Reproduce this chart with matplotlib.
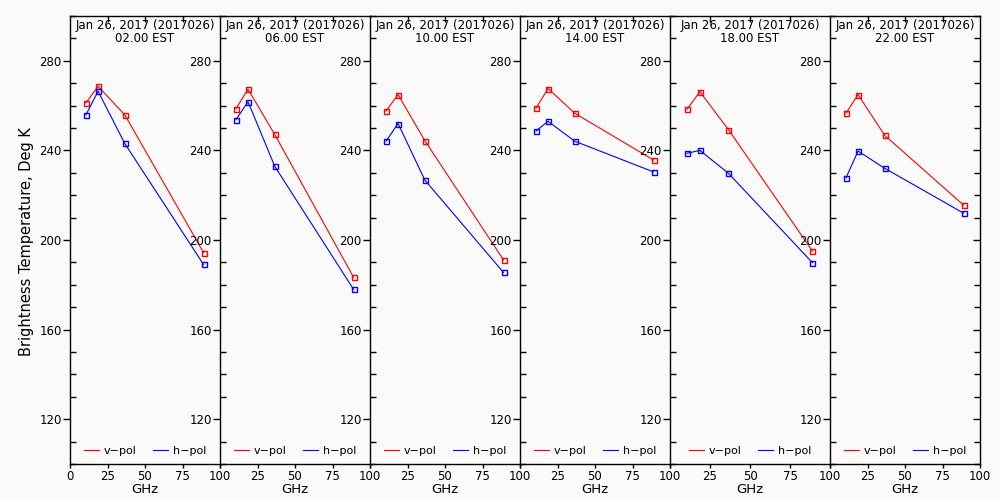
import matplotlib
matplotlib.use("Agg")
import matplotlib.pyplot as plt
from matplotlib.ticker import MultipleLocator, FixedLocator

# ---- data ----
freqs = [10.65, 18.7, 36.5, 89.0]
date_label = "Jan 26, 2017 (2017026)"
times = ["02.00 EST", "06.00 EST", "10.00 EST", "14.00 EST", "18.00 EST", "22.00 EST"]
vpol = [
    [261.2, 268.6, 255.9, 194.4],
    [258.6, 267.3, 247.1, 183.4],
    [257.5, 264.9, 244.4, 191.1],
    [258.8, 267.6, 256.6, 235.7],
    [258.4, 266.2, 249.3, 195.1],
    [256.6, 264.9, 246.7, 215.6],
]
hpol = [
    [255.9, 266.4, 243.1, 189.1],
    [253.7, 261.7, 232.9, 178.0],
    [244.1, 252.0, 226.8, 185.5],
    [248.6, 253.0, 244.1, 230.4],
    [238.7, 240.0, 229.8, 189.9],
    [227.7, 239.7, 232.0, 212.0],
]
x_ticks = [0, 25, 50, 75, 100]
y_ticks = [120, 160, 200, 240, 280]
legend_labels = ["v\u2212pol", "h\u2212pol"]

# ---- layout ----
W, H = 1000, 500
edges_px = [70, 220, 370, 520, 670, 830, 980]
top_px, bot_px = 16, 464
bg = "#fafafa"
fs = 8.5

fig = plt.figure(figsize=(W / 100, H / 100), dpi=100, facecolor=bg)

for i in range(6):
    l = edges_px[i] / W
    w = (edges_px[i + 1] - edges_px[i]) / W
    b = (H - bot_px) / H
    h = (bot_px - top_px) / H
    ax = fig.add_axes([l, b, w, h], facecolor=bg)
    ax.plot(freqs, vpol[i], color="#ff0000", lw=0.8, marker="s", ms=3.6,
            mfc="none", mec="#ff0000", mew=1.0, label=legend_labels[0])
    ax.plot(freqs, hpol[i], color="#0000ff", lw=0.8, marker="s", ms=3.6,
            mfc="none", mec="#0000ff", mew=1.0, label=legend_labels[1])
    ax.set_xlim(0, 100)
    ax.set_ylim(100, 300)

    for s in ["left", "top", "bottom", "right"]:
        ax.spines[s].set_linewidth(1.0)
        ax.spines[s].set_color("black")
    if i < 5:
        ax.spines["right"].set_visible(False)

    ax.xaxis.set_major_locator(FixedLocator(x_ticks))
    if i == 0:
        ax.set_xticklabels([str(t) for t in x_ticks])
    else:
        ax.set_xticklabels([""] + [str(t) for t in x_ticks[1:]])
    ax.tick_params(axis="x", which="major", direction="out", length=3,
                   width=1, pad=1, labelsize=fs)

    ax.yaxis.set_major_locator(FixedLocator(y_ticks))
    ax.yaxis.set_minor_locator(MultipleLocator(10))
    ax.tick_params(axis="y", which="major", direction="out", length=5,
                   width=1, pad=1, labelsize=fs)
    ax.tick_params(axis="y", which="minor", direction="in", length=4, width=1)
    ax.tick_params(right=False, top=False)

    sec = ax.secondary_xaxis("top")
    sec.xaxis.set_major_locator(FixedLocator(x_ticks[1:-1]))
    sec.tick_params(direction="in", length=4, width=1, labeltop=False)
    sec.spines["top"].set_visible(False)

    if i == 5:
        secy = ax.secondary_yaxis("right")
        secy.yaxis.set_major_locator(FixedLocator(y_ticks))
        secy.yaxis.set_minor_locator(MultipleLocator(10))
        secy.tick_params(which="major", direction="in", length=5, width=1,
                         labelright=False)
        secy.tick_params(which="minor", direction="in", length=4, width=1)
        secy.spines["right"].set_visible(False)

    ax.set_xlabel("GHz", fontsize=fs + 1, labelpad=0)
    ax.text(0.5, 1 - 3 / (bot_px - top_px), date_label + "\n" + times[i],
            transform=ax.transAxes, ha="center", va="top", fontsize=fs,
            linespacing=0.95)

    leg = ax.legend(loc="lower center", ncol=2, frameon=False, fontsize=8,
                    handlelength=1.35, handletextpad=0.5, columnspacing=1.4,
                    borderaxespad=0.3, bbox_to_anchor=(0.5, 0.0))
    for lh in leg.legend_handles:
        lh.set_marker("")

fig.text(27 / W, 1 - 242 / H, "Brightness Temperature, Deg K", rotation=90,
         ha="center", va="center", fontsize=fs + 2)

fig.savefig("out.png", dpi=100, facecolor=bg)
